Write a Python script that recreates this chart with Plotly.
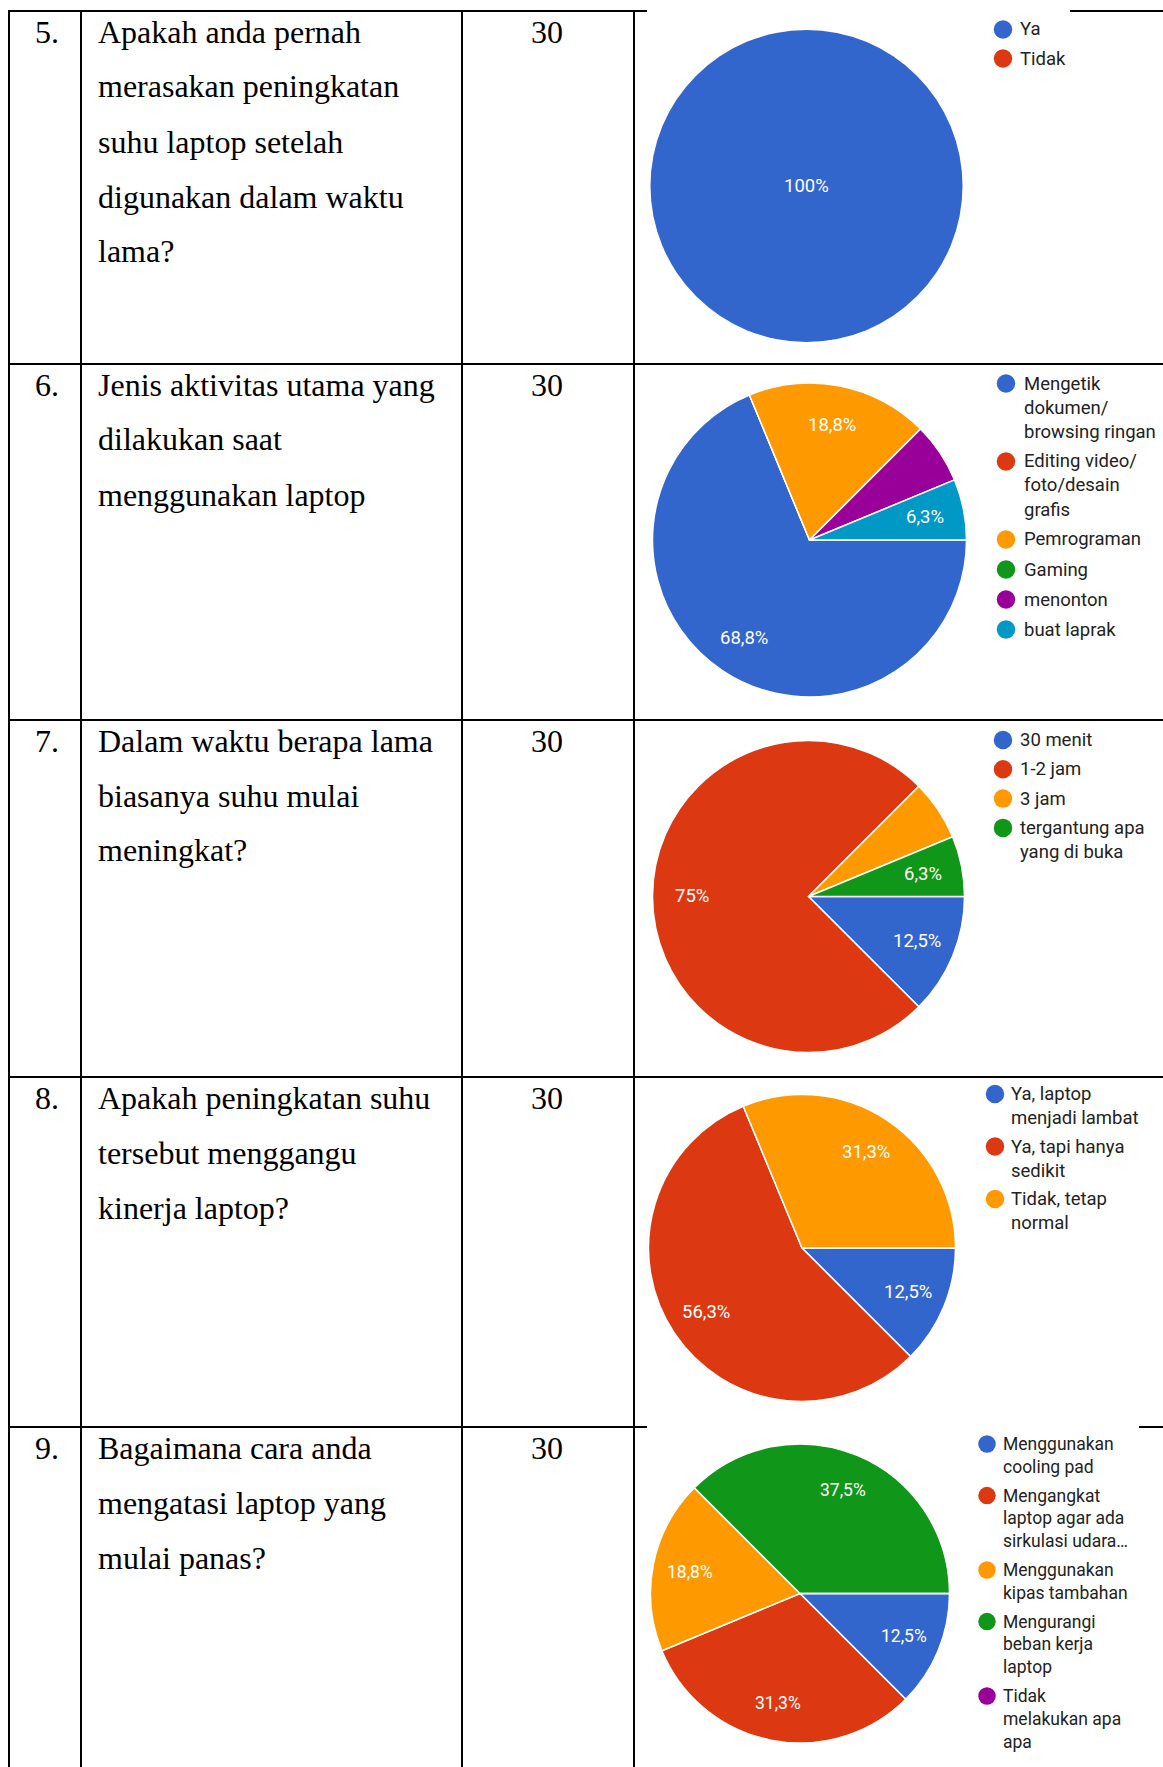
import math
from decimal import Decimal, ROUND_HALF_UP

import plotly.graph_objects as go

W, H = 1163, 1767

# ---------------- table content ----------------
row_numbers = ["5.", "6.", "7.", "8.", "9."]
questions = [
    ["Apakah anda pernah", "merasakan peningkatan", "suhu laptop setelah",
     "digunakan dalam waktu", "lama?"],
    ["Jenis aktivitas utama yang", "dilakukan saat", "menggunakan laptop"],
    ["Dalam waktu berapa lama", "biasanya suhu mulai", "meningkat?"],
    ["Apakah peningkatan suhu", "tersebut menggangu", "kinerja laptop?"],
    ["Bagaimana cara anda", "mengatasi laptop yang", "mulai panas?"],
]
respondents = [30, 30, 30, 30, 30]

# ---------------- survey answers (counts per option) ----------------
q5_labels = ["Ya", "Tidak"]
q5_counts = [16, 0]

q6_labels = ["Mengetik<br>dokumen/<br>browsing ringan",
             "Editing video/<br>foto/desain<br>grafis",
             "Pemrograman", "Gaming", "menonton", "buat laprak"]
q6_counts = [11, 0, 3, 0, 1, 1]

q7_labels = ["30 menit", "1-2 jam", "3 jam", "tergantung apa<br>yang di buka"]
q7_counts = [2, 12, 1, 1]

q8_labels = ["Ya, laptop<br>menjadi lambat", "Ya, tapi hanya<br>sedikit",
             "Tidak, tetap<br>normal"]
q8_counts = [2, 9, 5]

q9_labels = ["Menggunakan<br>cooling pad",
             "Mengangkat<br>laptop agar ada<br>sirkulasi udara…",
             "Menggunakan<br>kipas tambahan",
             "Mengurangi<br>beban kerja<br>laptop",
             "Tidak<br>melakukan apa<br>apa"]
q9_counts = [2, 5, 3, 6, 0]

PALETTE = ["#3366CC", "#DC3912", "#FF9900", "#109618", "#990099", "#0099C6"]

# ---------------- page geometry (pixels) ----------------
row_tops = [11, 364, 720, 1077, 1427]
col_x = [9, 81, 462, 634]
line_w = 2

charts = [
    dict(labels=q5_labels, counts=q5_counts, show=[True, False],
         cx=806.5, cy=186, r=156, font=18.5,
         dot_x=1003, text_x=1018, y0=29.5, lh=24, gap=29),
    dict(labels=q6_labels, counts=q6_counts,
         show=[True, False, True, False, False, True],
         cx=809.5, cy=540, r=157, font=18.5,
         dot_x=1006, text_x=1022, y0=383.5, lh=24, gap=30),
    dict(labels=q7_labels, counts=q7_counts, show=[True, True, False, True],
         cx=808.5, cy=896.5, r=156, font=18.5,
         dot_x=1003, text_x=1018, y0=740, lh=24, gap=29.3),
    dict(labels=q8_labels, counts=q8_counts, show=[True, True, True],
         cx=802, cy=1248, r=153.5, font=18.5,
         dot_x=995, text_x=1008.5, y0=1094, lh=24, gap=28.5),
    dict(labels=q9_labels, counts=q9_counts, show=[True, True, True, True, False],
         cx=800, cy=1593.5, r=149.5, font=17.5,
         dot_x=987, text_x=1001, y0=1444, lh=22.8, gap=28.8),
]


def fx(x):
    return x / W


def fy(y):
    return 1 - y / H


def pct_text(count, total):
    p = (Decimal(count * 100) / Decimal(total)).quantize(Decimal("0.1"),
                                                          rounding=ROUND_HALF_UP)
    s = str(p)
    if s.endswith(".0"):
        s = s[:-2]
    return s.replace(".", ",") + "%"


def label_positions(counts, cx, cy, r, frac=0.75, start=90.0):
    total = sum(counts)
    pos = []
    angle = start
    for c in counts:
        span = 360.0 * c / total
        mid = math.radians(angle + span / 2)
        if c == total:
            pos.append((cx, cy))
        else:
            pos.append((cx + frac * r * math.sin(mid), cy - frac * r * math.cos(mid)))
        angle += span
    return pos


fig = go.Figure()
shapes = []
annotations = []

# ---------------- table grid ----------------
def hline(y, x0, x1):
    shapes.append(dict(type="line", xref="paper", yref="paper",
                       x0=fx(x0), x1=fx(x1), y0=fy(y), y1=fy(y),
                       line=dict(color="black", width=line_w), layer="below"))


def vline(x, y0, y1):
    shapes.append(dict(type="line", xref="paper", yref="paper",
                       x0=fx(x), x1=fx(x), y0=fy(y0), y1=fy(y1),
                       line=dict(color="black", width=line_w), layer="below"))


# top border is partly hidden behind the first chart, the last row's top too
hline(row_tops[0], col_x[0] - 1, 647)
hline(row_tops[0], 1070, W)
for yt in row_tops[1:4]:
    hline(yt, col_x[0] - 1, W)
hline(row_tops[4], col_x[0] - 1, 647)
hline(row_tops[4], 1139, W)
for xc in col_x:
    vline(xc, row_tops[0] - 1, H)

SERIF = "Liberation Serif, Times New Roman, serif"
serif_size = 32
line_step = 55

for i, top in enumerate(row_tops):
    y_first = top + 20.5
    annotations.append(dict(text=row_numbers[i], x=fx(33), y=fy(y_first),
                            xref="paper", yref="paper", xanchor="left",
                            yanchor="middle", showarrow=False,
                            font=dict(family=SERIF, size=serif_size, color="black")))
    for j, line in enumerate(questions[i]):
        annotations.append(dict(text=line, x=fx(96), y=fy(y_first + j * line_step),
                                xref="paper", yref="paper", xanchor="left",
                                yanchor="middle", showarrow=False,
                                font=dict(family=SERIF, size=serif_size, color="black")))
    annotations.append(dict(text=str(respondents[i]), x=fx(546.5), y=fy(y_first),
                            xref="paper", yref="paper", xanchor="center",
                            yanchor="middle", showarrow=False,
                            font=dict(family=SERIF, size=serif_size, color="black")))

# ---------------- pies, slice labels and legends ----------------
SANS = "Roboto, Arial, sans-serif"

for ch in charts:
    cx, cy, r = ch["cx"], ch["cy"], ch["r"]
    n = len(ch["counts"])
    colors = PALETTE[:n]
    plain = [lab.replace("<br>", " ") for lab in ch["labels"]]
    total = sum(ch["counts"])
    # a single full-circle slice gets no seam line
    border_w = 0 if max(ch["counts"]) == total else 1.5
    fig.add_trace(go.Pie(
        labels=plain, values=ch["counts"], sort=False,
        direction="clockwise", rotation=90,
        marker=dict(colors=colors, line=dict(color="white", width=border_w)),
        textinfo="none", hoverinfo="label+percent", showlegend=False,
        domain=dict(x=[fx(cx - r), fx(cx + r)], y=[fy(cy + r), fy(cy - r)]),
    ))

    for (lx, ly), c, show in zip(label_positions(ch["counts"], cx, cy, r),
                                 ch["counts"], ch["show"]):
        if c == 0 or not show:
            continue
        annotations.append(dict(text=pct_text(c, total), x=fx(lx), y=fy(ly),
                                xref="paper", yref="paper", xanchor="center",
                                yanchor="middle", showarrow=False,
                                font=dict(family=SANS, size=ch["font"], color="white")))

    # legend: coloured dot + wrapped label lines
    y = ch["y0"]
    dot_r = ch["font"] * 0.5
    for lab, col in zip(ch["labels"], colors):
        lines = lab.split("<br>")
        shapes.append(dict(type="circle", xref="paper", yref="paper",
                           x0=fx(ch["dot_x"] - dot_r), x1=fx(ch["dot_x"] + dot_r),
                           y0=fy(y + dot_r), y1=fy(y - dot_r),
                           fillcolor=col, line=dict(width=0)))
        for k, ln in enumerate(lines):
            annotations.append(dict(text=ln, x=fx(ch["text_x"]), y=fy(y + k * ch["lh"]),
                                    xref="paper", yref="paper", xanchor="left",
                                    yanchor="middle", showarrow=False,
                                    font=dict(family=SANS, size=ch["font"],
                                              color="#222222")))
        y += (len(lines) - 1) * ch["lh"] + ch["gap"]

fig.update_layout(
    width=W, height=H,
    margin=dict(l=0, r=0, t=0, b=0),
    paper_bgcolor="white", plot_bgcolor="white",
    shapes=shapes, annotations=annotations,
    showlegend=False,
)

fig.write_html("out.html")
